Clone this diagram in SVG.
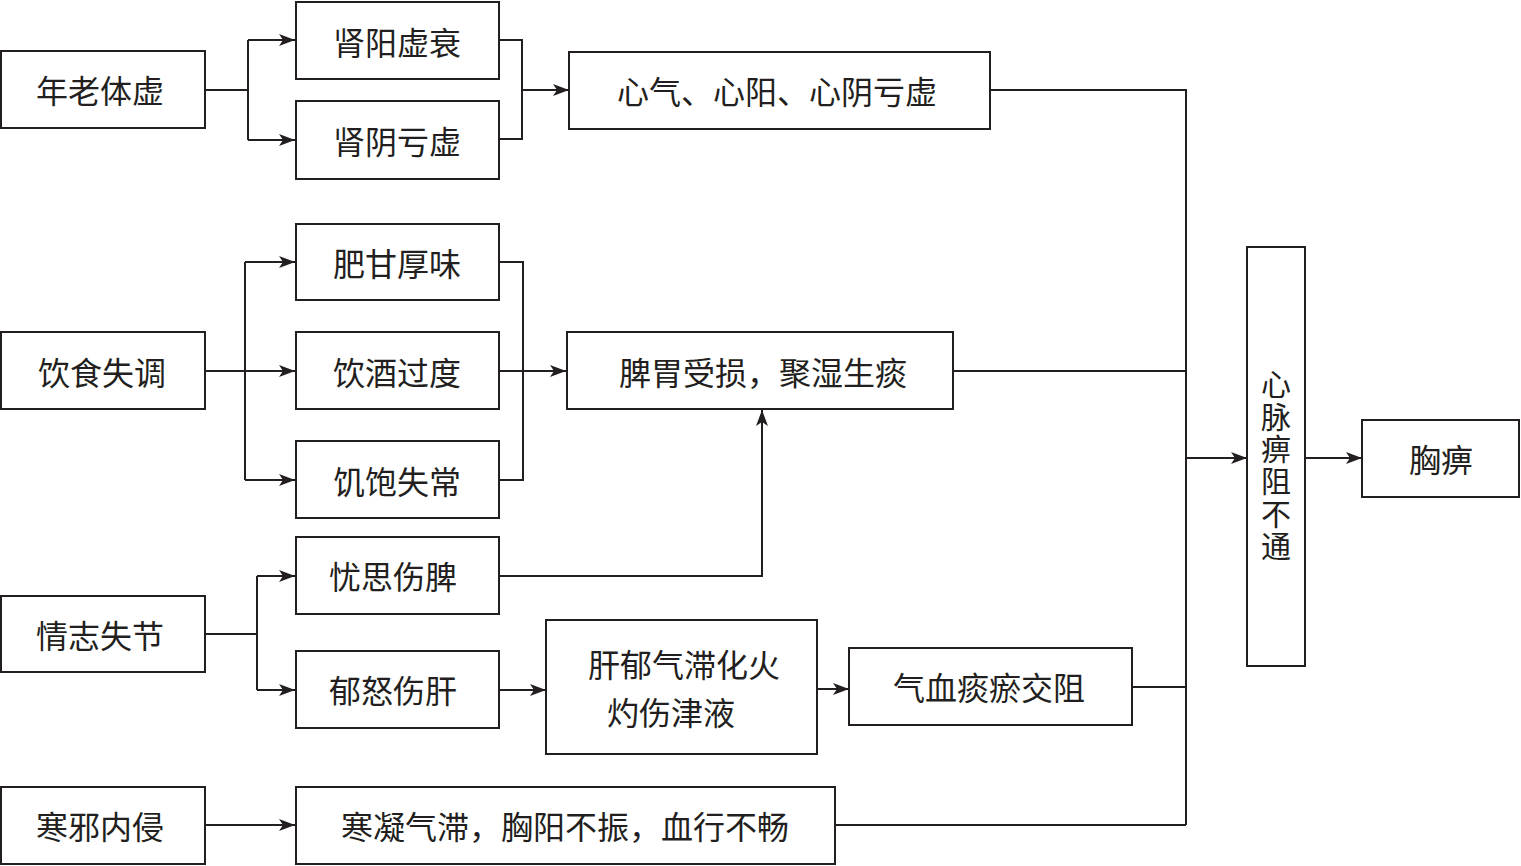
<svg xmlns="http://www.w3.org/2000/svg" width="1521" height="866" viewBox="0 0 1521 866">
<style>
.box{fill:#fff;stroke:#231f20;stroke-width:2}
.t{font-family:"Noto Sans CJK SC","Noto Sans CJK JP",sans-serif;font-size:32px;fill:#231f20;text-anchor:middle;dominant-baseline:central}
.v{font-family:"Noto Sans CJK SC","Noto Sans CJK JP",sans-serif;font-size:30px;fill:#231f20;text-anchor:middle;writing-mode:vertical-rl;letter-spacing:2.4px}
.ln{fill:none;stroke:#231f20;stroke-width:2}
</style>
<defs>
<marker id="ar" markerWidth="17" markerHeight="12" refX="16" refY="6" orient="auto" markerUnits="userSpaceOnUse">
<path d="M0,0 L16,6 L0,12 L4,6 Z" fill="#231f20"/>
</marker>
</defs>
<g id="connectors">
<path class="ln" d="M205,90 H248 M248,40 V140"/>
<path class="ln" d="M248,40 H295" marker-end="url(#ar)"/>
<path class="ln" d="M248,140 H295" marker-end="url(#ar)"/>
<path class="ln" d="M499,40 H522 V139 H499"/>
<path class="ln" d="M522,90 H569" marker-end="url(#ar)"/>
<path class="ln" d="M990,90 H1186 V825"/>
<path class="ln" d="M205,371 H245 M245,262 V480"/>
<path class="ln" d="M245,262 H295" marker-end="url(#ar)"/>
<path class="ln" d="M245,371 H295" marker-end="url(#ar)"/>
<path class="ln" d="M245,480 H295" marker-end="url(#ar)"/>
<path class="ln" d="M499,262 H523 V480 H499"/>
<path class="ln" d="M499,371 H566" marker-end="url(#ar)"/>
<path class="ln" d="M953,371 H1186"/>
<path class="ln" d="M499,576 H762 V410" marker-end="url(#ar)"/>
<path class="ln" d="M205,634 H257 M257,576 V690"/>
<path class="ln" d="M257,576 H295" marker-end="url(#ar)"/>
<path class="ln" d="M257,690 H295" marker-end="url(#ar)"/>
<path class="ln" d="M499,690 H546" marker-end="url(#ar)"/>
<path class="ln" d="M817,689 H849" marker-end="url(#ar)"/>
<path class="ln" d="M1132,687 H1186"/>
<path class="ln" d="M205,825 H295" marker-end="url(#ar)"/>
<path class="ln" d="M835,825 H1186"/>
<path class="ln" d="M1186,458 H1247" marker-end="url(#ar)"/>
<path class="ln" d="M1305,458 H1362" marker-end="url(#ar)"/>
</g>
<g id="n1"><rect class="box" x="1" y="51" width="204" height="77"/><text class="t" x="100" y="89">年老体虚</text></g>
<g id="n2"><rect class="box" x="296" y="2" width="203" height="77"/><text class="t" x="397" y="41">肾阳虚衰</text></g>
<g id="n3"><rect class="box" x="296" y="101" width="203" height="78"/><text class="t" x="397" y="140">肾阴亏虚</text></g>
<g id="n4"><rect class="box" x="569" y="52" width="421" height="77"/><text class="t" x="777" y="90">心气、心阳、心阴亏虚</text></g>
<g id="n5"><rect class="box" x="1" y="332" width="204" height="77"/><text class="t" x="102" y="371">饮食失调</text></g>
<g id="n6"><rect class="box" x="296" y="224" width="203" height="76"/><text class="t" x="397" y="262">肥甘厚味</text></g>
<g id="n7"><rect class="box" x="296" y="332" width="203" height="77"/><text class="t" x="397" y="371">饮酒过度</text></g>
<g id="n8"><rect class="box" x="296" y="441" width="203" height="77"/><text class="t" x="397" y="480">饥饱失常</text></g>
<g id="n9"><rect class="box" x="567" y="332" width="386" height="77"/><text class="t" x="763" y="371">脾胃受损，聚湿生痰</text></g>
<g id="n10"><rect class="box" x="1" y="596" width="204" height="76"/><text class="t" x="100" y="634">情志失节</text></g>
<g id="n11"><rect class="box" x="296" y="537" width="203" height="77"/><text class="t" x="393" y="575">忧思伤脾</text></g>
<g id="n12"><rect class="box" x="296" y="651" width="203" height="77"/><text class="t" x="393" y="689">郁怒伤肝</text></g>
<g id="n13"><rect class="box" x="546" y="620" width="271" height="134"/><text class="t"><tspan x="684" y="663">肝郁气滞化火</tspan><tspan x="671" y="711">灼伤津液</tspan></text></g>
<g id="n14"><rect class="box" x="849" y="648" width="283" height="77"/><text class="t" x="989" y="686">气血痰瘀交阻</text></g>
<g id="n15"><rect class="box" x="1" y="787" width="204" height="77"/><text class="t" x="100" y="825">寒邪内侵</text></g>
<g id="n16"><rect class="box" x="296" y="787" width="539" height="77"/><text class="t" x="565" y="825">寒凝气滞，胸阳不振，血行不畅</text></g>
<g id="n17"><rect class="box" x="1247" y="247" width="58" height="419"/><text class="v" x="1276" y="466">心脉痹阻不通</text></g>
<g id="n18"><rect class="box" x="1362" y="420" width="157" height="77"/><text class="t" x="1441" y="458">胸痹</text></g>
</svg>
